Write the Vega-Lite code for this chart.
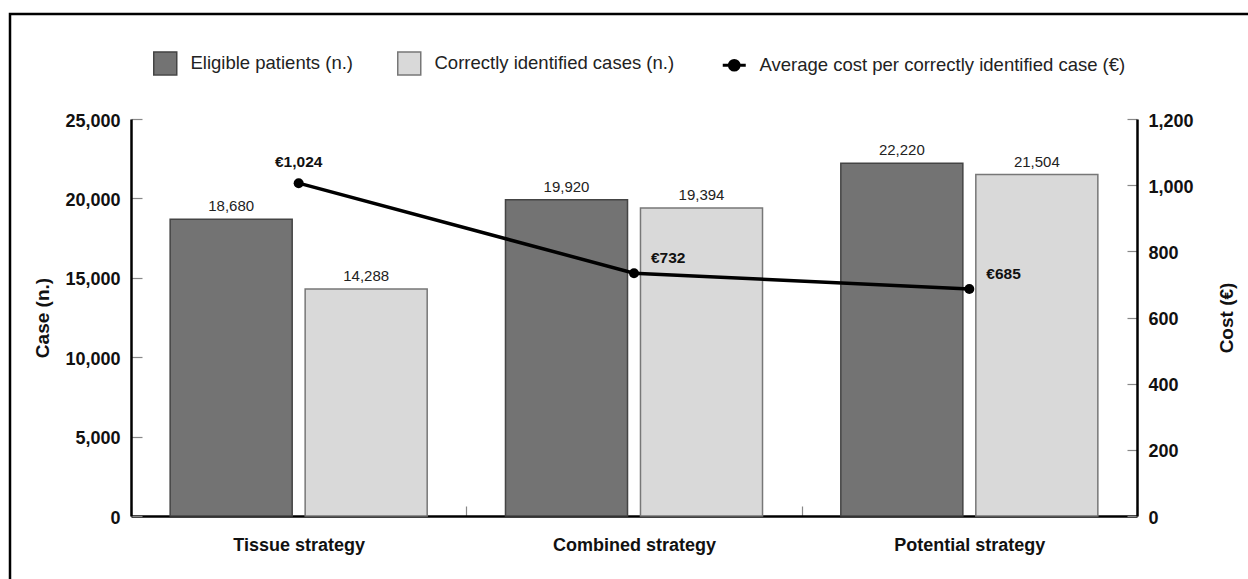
{
  "$schema": "https://vega.github.io/schema/vega-lite/v6.json",
  "width": 1250,
  "height": 581,
  "autosize": "none",
  "padding": {"left": 10, "top": 14, "right": -12, "bottom": -16},
  "background": "white",
  "config": {
    "font": "Liberation Sans",
    "view": {"stroke": "black", "strokeWidth": 2.5},
    "axis": {"grid": false, "labelFont": "Liberation Sans", "titleFont": "Liberation Sans"}
  },
  "datasets": {
    "bars": [
      {"strategy": "Tissue strategy", "series": "Eligible patients (n.)", "count": 18680},
      {"strategy": "Tissue strategy", "series": "Correctly identified cases (n.)", "count": 14288},
      {"strategy": "Combined strategy", "series": "Eligible patients (n.)", "count": 19920},
      {"strategy": "Combined strategy", "series": "Correctly identified cases (n.)", "count": 19394},
      {"strategy": "Potential strategy", "series": "Eligible patients (n.)", "count": 22220},
      {"strategy": "Potential strategy", "series": "Correctly identified cases (n.)", "count": 21504}
    ],
    "cost": [
      {"strategy": "Tissue strategy", "cost": 1006, "label": "€1,024"},
      {"strategy": "Combined strategy", "cost": 734, "label": "€732"},
      {"strategy": "Potential strategy", "cost": 686, "label": "€685"}
    ]
  },
  "layer": [
    {
      "data": {"name": "bars"},
      "layer": [
        {
          "mark": {"type": "bar", "strokeWidth": 1.5},
          "encoding": {
            "x": {
              "field": "strategy", "type": "nominal",
              "sort": ["Tissue strategy", "Combined strategy", "Potential strategy"],
              "scale": {"range": [121, 1127], "paddingInner": 0, "paddingOuter": 0},
              "axis": {
                "title": null, "orient": "bottom", "offset": -79, "tickBand": "extent",
                "tickSize": -10, "tickColor": "#888", "tickWidth": 1.2,
                "domainColor": "black", "domainWidth": 2.5,
                "labelFontSize": 18, "labelFontWeight": "bold", "labelColor": "#111",
                "labelPadding": 30, "labelAngle": 0
              }
            },
            "xOffset": {
              "field": "series", "type": "nominal",
              "sort": ["Eligible patients (n.)", "Correctly identified cases (n.)"],
              "scale": {"paddingInner": 0.096, "paddingOuter": 0.29}
            },
            "y": {
              "field": "count", "type": "quantitative",
              "scale": {"domain": [0, 25000], "range": [502, 105], "nice": false},
              "axis": {
                "title": "Case (n.)", "orient": "left", "offset": -121,
                "values": [0, 5000, 10000, 15000, 20000, 25000], "format": ",.0f",
                "tickSize": -11, "tickColor": "#888", "tickWidth": 1.2,
                "domainColor": "black", "domainWidth": 2.5,
                "labelFontSize": 18, "labelFontWeight": "bold", "labelColor": "#111",
                "labelPadding": 22, "labelOffset": 2,
                "titleFontSize": 19, "titleFontWeight": "bold", "titleColor": "#111", "titlePadding": 12
              }
            },
            "color": {
              "field": "series", "type": "nominal",
              "scale": {
                "domain": ["Eligible patients (n.)", "Correctly identified cases (n.)", "Average cost per correctly identified case (€)"],
                "range": ["#737373", "#d9d9d9", "black"]
              },
              "legend": {
                "orient": "none", "legendX": 146, "legendY": 40, "direction": "horizontal",
                "title": null, "padding": 0, "symbolSize": 529, "symbolType": "square",
                "labelFontSize": 18.5, "labelFont": "Liberation Sans", "labelColor": "#222",
                "labelOffset": 16, "columnPadding": 41, "labelLimit": 400,
                "symbolStrokeWidth": 1.5,
                "encode": {
                  "symbols": {
                    "update": {
                      "shape": {"signal": "datum.value === 'Average cost per correctly identified case (€)' ? 'M-1,0H1M0.42,0A0.42,0.42 0 1,1 -0.42,0A0.42,0.42 0 1,1 0.42,0' : 'square'"},
                      "stroke": {"signal": "datum.value === 'Eligible patients (n.)' ? '#444' : (datum.value === 'Correctly identified cases (n.)' ? '#777' : 'black')"},
                      "strokeWidth": {"signal": "datum.value === 'Average cost per correctly identified case (€)' ? 3 : 1.5"},
                      "opacity": {"value": 1}
                    }
                  }
                }
              }
            },
            "stroke": {
              "field": "series", "type": "nominal",
              "scale": {
                "domain": ["Eligible patients (n.)", "Correctly identified cases (n.)"],
                "range": ["#444444", "#777777"]
              },
              "legend": null
            }
          }
        },
        {
          "mark": {"type": "text", "dy": -8, "baseline": "alphabetic", "fontSize": 15, "color": "#222", "font": "Liberation Sans"},
          "encoding": {
            "x": {"field": "strategy", "type": "nominal", "sort": ["Tissue strategy", "Combined strategy", "Potential strategy"]},
            "xOffset": {"field": "series", "type": "nominal", "sort": ["Eligible patients (n.)", "Correctly identified cases (n.)"]},
            "y": {"field": "count", "type": "quantitative"},
            "text": {"field": "count", "type": "quantitative", "format": ",.0f"}
          }
        }
      ]
    },
    {
      "data": {"name": "cost"},
      "layer": [
        {
          "mark": {"type": "line", "color": "black", "strokeWidth": 3.5},
          "encoding": {
            "x": {"field": "strategy", "type": "nominal", "sort": ["Tissue strategy", "Combined strategy", "Potential strategy"]},
            "y": {
              "field": "cost", "type": "quantitative",
              "scale": {"domain": [0, 1200], "range": [502, 105], "nice": false},
              "axis": {
                "title": "Cost (€)", "orient": "right", "offset": -123,
                "values": [0, 200, 400, 600, 800, 1000, 1200], "format": ",.0f",
                "tickSize": -10, "tickColor": "#888", "tickWidth": 1.2,
                "domainColor": "black", "domainWidth": 2.5,
                "labelFontSize": 18, "labelFontWeight": "bold", "labelColor": "#111",
                "labelPadding": 21, "labelOffset": 2,
                "titleFontSize": 19, "titleFontWeight": "bold", "titleColor": "#111",
                "titleAngle": 270, "titleBaseline": "top", "titlePadding": 24
              }
            }
          }
        },
        {
          "mark": {"type": "point", "filled": true, "color": "black", "size": 100, "opacity": 1},
          "encoding": {
            "x": {"field": "strategy", "type": "nominal", "sort": ["Tissue strategy", "Combined strategy", "Potential strategy"]},
            "y": {"field": "cost", "type": "quantitative"}
          }
        },
        {
          "transform": [{"filter": "datum.strategy === 'Tissue strategy'"}],
          "mark": {"type": "text", "align": "center", "baseline": "alphabetic", "dy": -16, "fontSize": 15.5, "fontWeight": "bold", "color": "#111", "font": "Liberation Sans"},
          "encoding": {
            "x": {"field": "strategy", "type": "nominal", "sort": ["Tissue strategy", "Combined strategy", "Potential strategy"]},
            "y": {"field": "cost", "type": "quantitative"},
            "text": {"field": "label", "type": "nominal"}
          }
        },
        {
          "transform": [{"filter": "datum.strategy !== 'Tissue strategy'"}],
          "mark": {"type": "text", "align": "left", "baseline": "alphabetic", "dx": 17, "dy": -10, "fontSize": 15.5, "fontWeight": "bold", "color": "#111", "font": "Liberation Sans"},
          "encoding": {
            "x": {"field": "strategy", "type": "nominal", "sort": ["Tissue strategy", "Combined strategy", "Potential strategy"]},
            "y": {"field": "cost", "type": "quantitative"},
            "text": {"field": "label", "type": "nominal"}
          }
        }
      ]
    }
  ],
  "resolve": {"scale": {"y": "independent"}}
}
